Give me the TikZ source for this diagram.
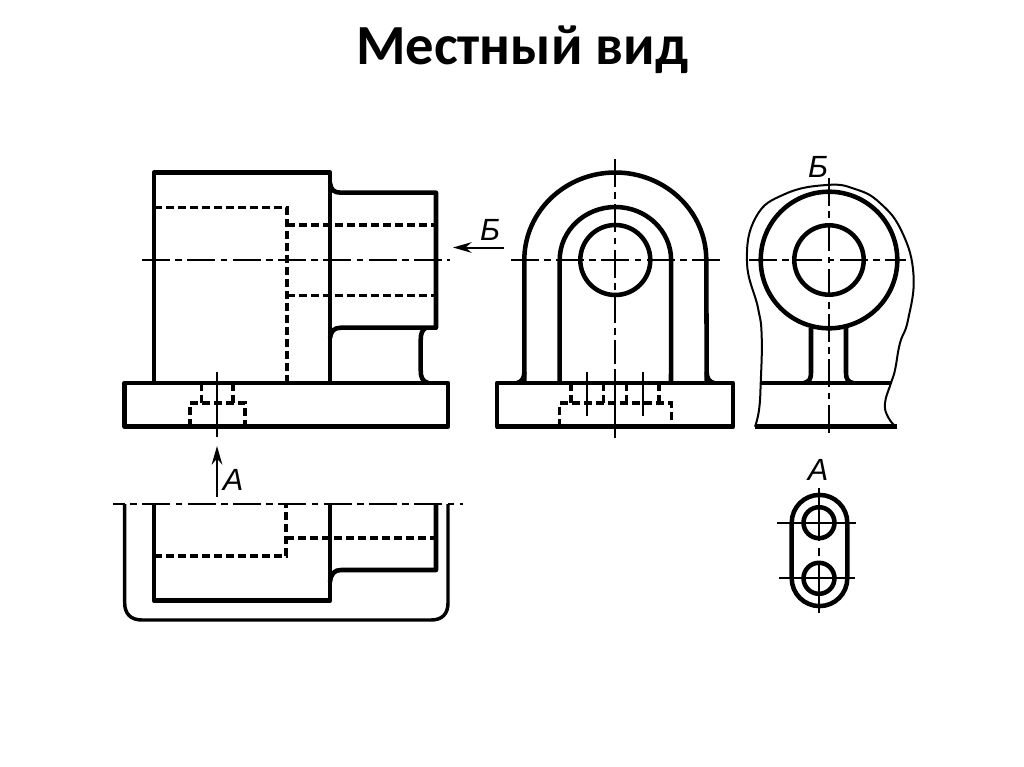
\documentclass[tikz,border=0pt]{standalone}
\usepackage{fontspec}
\setmainfont{Carlito}
\newfontfamily\labelfont{Liberation Sans}
\usetikzlibrary{arrows.meta}
\tikzset{
	contour/.style={line width=3.4pt, line join=round},
	outline/.style={line width=2.6pt, line join=round},
	thinline/.style={line width=1.5pt, line join=round},
	hidden/.style={line width=2.5pt, dash pattern=on 6pt off 3pt},
	axis/.style={line width=1.5pt, dash pattern=on 21pt off 4pt on 5pt off 4pt},
	tick/.style={line width=1.5pt},
	letter/.style={font=\labelfont\itshape\fontsize{23}{23}\selectfont, inner sep=0pt}
}
\begin{document}
\begin{tikzpicture}[x=0.75pt, y=-0.75pt, >={Stealth[length=14pt, width=8pt]}]
	\useasboundingbox (0,0) rectangle (1024,767);
	\node[font=\bfseries\fontsize{42.5}{42.5}\selectfont, inner sep=0pt] (title) at (522,50) {Местный вид};

	%Front view
	\draw[contour] (154,383) -- (154,172.7) -- (330,172.7) -- (330,383);
	\draw[contour] (330,183) .. controls (331,190) and (334,192.7) .. (341,192.7) -- (436,192.7) -- (436,327.7) -- (341,327.7)
		.. controls (334,327.7) and (331,331) .. (330,338);
	\draw[contour] (426,327.7) .. controls (422,330) and (420.7,334) .. (420.7,340) -- (420.7,370) .. controls (420.7,377) and (422,381) .. (428,383);
	\draw[contour] (124.7,383) rectangle (448,426.7);
	\draw[hidden] (154,207.7) -- (287,207.7) -- (287,383);
	\draw[hidden] (287,225) -- (436,225);
	\draw[hidden] (287,295.7) -- (436,295.7);
	\draw[hidden] (201.7,383) -- (201.7,403);
	\draw[hidden] (233,383) -- (233,403);
	\draw[hidden] (190,426.7) -- (190,403) -- (245,403) -- (245,426.7);
	\draw[axis] (142,260) -- (450,260);
	\draw[tick] (217,371.7) -- (217,436.7);

	%View B arrow
	\coordinate (arrowB) at (504,247.5);
	\coordinate (tipB) at (453,247.5);
	\draw[->, tick] (arrowB) -- (tipB);
	\node[letter] (labelB) at (490,230) {Б};

	%Side view
	\draw[contour] (524.3,383) -- (524.3,260) arc[start angle=180, end angle=360, x radius=91, y radius=87.5] -- (706.7,383);
	\draw[contour] (559.7,383) -- (559.7,260) arc[start angle=180, end angle=360, x radius=55.7, y radius=53] -- (671,383);
	\draw[contour] (615.3,260) circle[radius=35];
	\draw[contour] (497,383) rectangle (733,426.7);
	\draw[contour] (524.3,372) .. controls (524.3,378) and (522,382) .. (517,383);
	\draw[contour] (706.7,372) .. controls (706.7,378) and (709,382) .. (714,383);
	\foreach \x in {571,603.3,626.7,659}
		\draw[hidden] (\x,383) -- (\x,403);
	\draw[hidden] (559.7,426.7) -- (559.7,403) -- (671.5,403) -- (671.5,426.7);
	\foreach \x in {587.3,643}
		\draw[tick] (\x,371.7) -- (\x,415.7);
	\draw[axis] (510.7,260) -- (725,260);
	\draw[axis] (615.3,159) -- (615.3,364);
	\draw[tick] (615.3,369) -- (615.3,438);

	%View B
	\draw[thinline] plot[smooth, tension=0.75] coordinates {(755,426.7) (759,410) (760.7,383.3) (761.7,336.7) (758,308)
		(747,262) (756,217) (785,194) (826.7,185) (855,189) (880,203) (902,232) (913.5,275) (908,320)
		(900,343) (895,370) (891,383) (885,403) (888,417) (896,427)};
	\draw[contour] (829,260) circle[radius=68.3];
	\draw[contour] (829,260) circle[radius=34.7];
	\draw[contour] (811,328) -- (811,373) .. controls (811,379) and (809,382) .. (804,383);
	\draw[contour] (846,328) -- (846,373) .. controls (846,379) and (848,382) .. (853,383);
	\draw[contour] (760.7,383) -- (891,383);
	\draw[contour] (755,426.7) -- (896.7,426.7);
	\draw[axis] (749,260) -- (906,260);
	\draw[axis] (828.7,178) -- (828.7,433);
	\node[letter] (labelBtop) at (818,167) {Б};

	%View A arrow
	\coordinate (arrowA) at (217,497);
	\coordinate (tipA) at (217,446);
	\draw[->, tick] (arrowA) -- (tipA);
	\node[letter] (labelA) at (233,480) {A};

	%Top view
	\draw[contour] (154,504) -- (154,600.7) -- (330,600.7) -- (330,504);
	\draw[contour] (330,582) .. controls (331,574) and (334,570) .. (341,570) -- (436,570) -- (436,504);
	\draw[outline] (124.7,504) -- (124.7,603) .. controls (124.7,614) and (131,620) .. (142,620) -- (431,620)
		.. controls (442,620) and (448,614) .. (448,603) -- (448,504);
	\draw[hidden] (154,556) -- (286,556) -- (286,504);
	\draw[hidden] (286,538) -- (436,538);
	\draw[axis, dash phase=12pt] (113,503.7) -- (463,503.7);

	%View A
	\draw[contour] (791.7,522.7) arc[start angle=180, end angle=360, radius=27.8] -- (847.3,578.3)
		arc[start angle=0, end angle=180, radius=27.8] -- cycle;
	\draw[contour] (819,522.7) circle[radius=15.5];
	\draw[contour] (819,578.3) circle[radius=15.5];
	\draw[tick] (777,522.7) -- (856,522.7);
	\draw[tick] (779,578.3) -- (855,578.3);
	\draw[tick] (819,488) -- (819,541);
	\draw[tick] (819,548) -- (819,556);
	\draw[tick] (819,562) -- (819,613);
	\node[letter] (labelAtop) at (818,470) {A};
\end{tikzpicture}
\end{document}
